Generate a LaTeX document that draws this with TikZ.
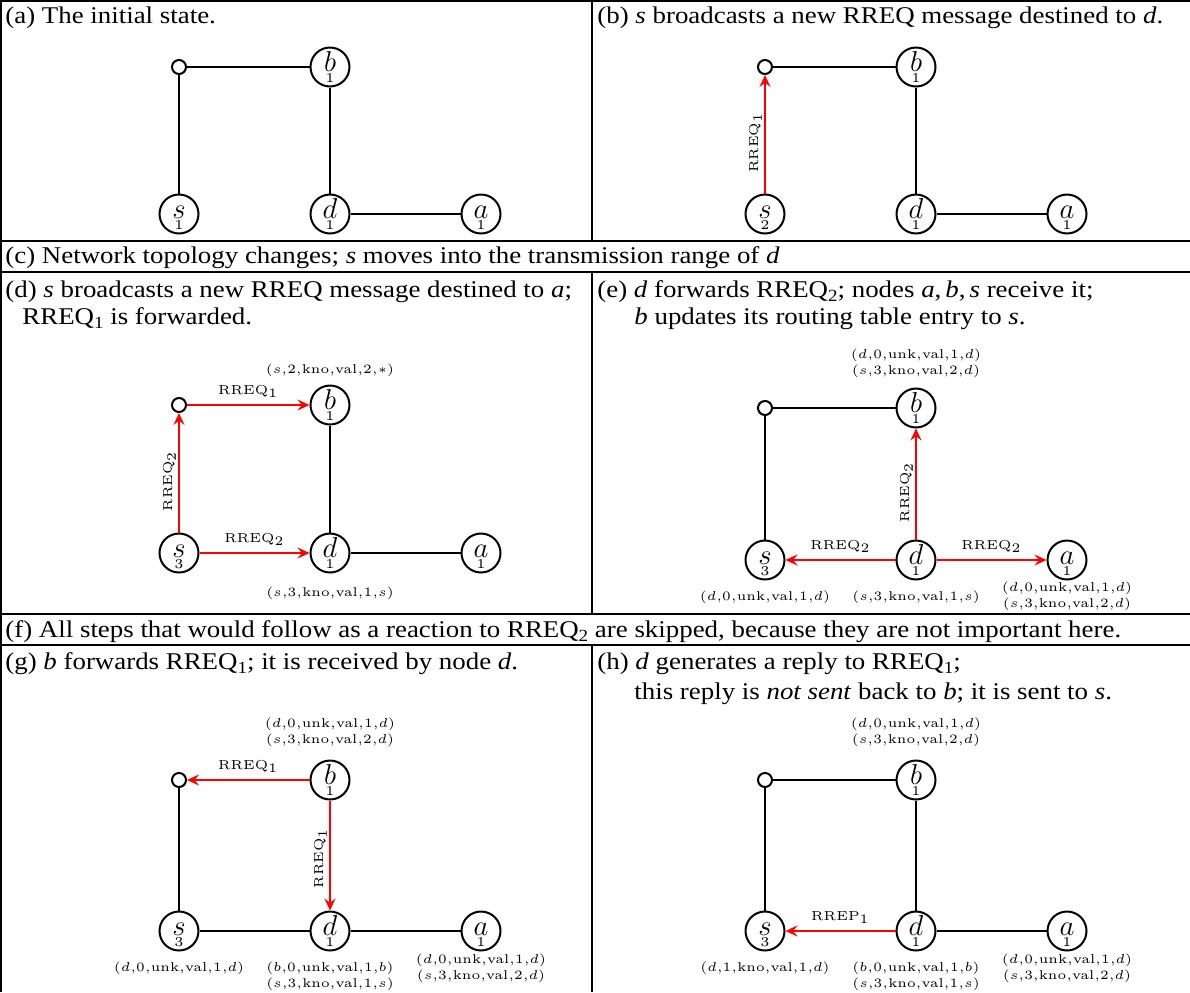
\documentclass[tikz,border=0pt]{standalone}
\usepackage[no-math]{fontspec}
\setmainfont[FakeStretch=1.12]{Liberation Serif}
\usepackage{graphicx}
\usetikzlibrary{arrows.meta,calc}

\newcommand\sm[1]{\scalebox{1.28}{\fontsize{5}{6}\selectfont$#1$}}
\newcommand\smm[1]{\scalebox{1.3}{\fontsize{5}{6}\selectfont$#1$}}
\newcommand\smn[1]{\scalebox{1.35}{\fontsize{5}{6}\selectfont$#1$}}
\newcommand\rsub[1]{\raisebox{-0.45ex}{\fontsize{8.5}{10}\selectfont #1}}
\newcommand\tup[6]{\sm{(#1{,}#2{,}\mathrm{#3}{,}\mathrm{#4}{,}#5{,}#6)}}
\newcommand\nlab[2]{\vbox{\offinterlineskip\halign{\hfil##\hfil\cr
  \fontsize{15}{15}\selectfont$\vphantom{b}#1$\cr
  \noalign{\kern1.3pt}
  \smn{#2}\cr}}}

\tikzset{
  gn/.style={circle,draw,line width=1pt,minimum size=19.5pt,inner sep=0pt},
  hub/.style={circle,draw,line width=1pt,minimum size=7pt,inner sep=0pt},
  lnk/.style={line width=1pt},
  msg/.style={line width=1.1pt,red,-{Stealth[length=6pt,width=5.5pt,inset=2.2pt]}},
  frm/.style={line width=1.1pt},
  captxt/.style={anchor=base west,inner sep=0pt,font=\fontsize{12}{14}\selectfont},
  hlbl/.style={midway,above=2pt,inner sep=1pt,text=black},
  vlbl/.style={rotate=90,anchor=south,inner sep=1pt,xshift=-1.3pt,text=black},
  tbl/.style={inner sep=0pt},
}

\newcommand\gnode[5]{\node[gn] (#1) at (#2,#3) {\nlab{#4}{#5}};}
\newcommand\hnode[3]{\node[hub] (#1) at (#2,#3) {};}

\begin{document}
\begin{tikzpicture}[x=0.5pt,y=-0.5pt]
\useasboundingbox (0,0) rectangle (1190,992);
\clip (0,0) rectangle (1190,992);

% frame
\draw[frm] (1,0) -- (1,992);
\draw[frm] (0,1) -- (1190,1);
\draw[frm] (0,241) -- (1190,241);
\draw[frm] (0,272) -- (1190,272);
\draw[frm] (0,614) -- (1190,614);
\draw[frm] (0,645) -- (1190,645);
\draw[frm] (592,0) -- (592,241);
\draw[frm] (592,272) -- (592,614);
\draw[frm] (592,645) -- (592,992);

% captions
\node[captxt] (ca) at (5,23) {(a) The initial state.};
\node[captxt] (cb) at (597,23) {(b) \textit{s} broadcasts a new RREQ message destined to \textit{d}.};
\node[captxt] (cc) at (5,263) {(c) Network topology changes; \textit{s} moves into the transmission range of \textit{d}};
\node[captxt] (cd1) at (5,297) {(d) \textit{s} broadcasts a new RREQ message destined to \textit{a};};
\node[captxt] (cd2) at (22,324) {RREQ\rsub{1} is forwarded.};
\node[captxt] (ce1) at (597,297) {(e) \textit{d} forwards RREQ\rsub{2}; nodes \textit{a},\,\textit{b},\,\textit{s} receive it;};
\node[captxt] (ce2) at (634,324) {\textit{b} updates its routing table entry to \textit{s}.};
\node[captxt] (cf) at (5,637) {(f) All steps that would follow as a reaction to RREQ\rsub{2} are skipped, because they are not important here.};
\node[captxt] (cg) at (5,669) {(g) \textit{b} forwards RREQ\rsub{1}; it is received by node \textit{d}.};
\node[captxt] (ch1) at (597,669) {(h) \textit{d} generates a reply to RREQ\rsub{1};};
\node[captxt] (ch2) at (634,699) {this reply is \textit{not sent} back to \textit{b}; it is sent to \textit{s}.};

% ---------- panel a
\hnode{Ah}{179}{67}
\gnode{Ab}{330}{67}{b}{1}
\gnode{As}{179}{214}{s}{1}
\gnode{Ad}{330}{214}{d}{1}
\gnode{Aa}{481}{214}{a}{1}
\draw[lnk] (Ah) -- (Ab);
\draw[lnk] (Ah) -- (As);
\draw[lnk] (Ab) -- (Ad);
\draw[lnk] (Ad) -- (Aa);

% ---------- panel b
\hnode{Bh}{765}{67}
\gnode{Bb}{916}{67}{b}{1}
\gnode{Bs}{765}{214}{s}{2}
\gnode{Bd}{916}{214}{d}{1}
\gnode{Ba}{1067}{214}{a}{1}
\draw[lnk] (Bh) -- (Bb);
\draw[lnk] (Bb) -- (Bd);
\draw[lnk] (Bd) -- (Ba);
\draw[msg] (Bs) -- node[vlbl,pos=0.45] (Bl1) {\smm{\mathrm{RREQ}_1}} (Bh);

% ---------- panel d
\hnode{Dh}{179}{405}
\gnode{Db}{330}{405}{b}{1}
\gnode{Ds}{179}{553}{s}{3}
\gnode{Dd}{330}{553}{d}{1}
\gnode{Da}{481}{553}{a}{1}
\draw[lnk] (Db) -- (Dd);
\draw[lnk] (Dd) -- (Da);
\draw[msg] (Dh) -- node[hlbl] (Dl1) {\smm{\mathrm{RREQ}_1}} (Db);
\draw[msg] (Ds) -- node[vlbl,pos=0.45] (Dl2) {\smm{\mathrm{RREQ}_2}} (Dh);
\draw[msg] (Ds) -- node[hlbl] (Dl3) {\smm{\mathrm{RREQ}_2}} (Dd);
\node[tbl] (Dt1) at (330,370) {\tup{s}{2}{kno}{val}{2}{*}};
\node[tbl] (Dt2) at (330,593) {\tup{s}{3}{kno}{val}{1}{s}};

% ---------- panel e
\hnode{Eh}{765}{408}
\gnode{Eb}{916}{408}{b}{1}
\gnode{Es}{765}{560}{s}{3}
\gnode{Ed}{916}{560}{d}{1}
\gnode{Ea}{1067}{560}{a}{1}
\draw[lnk] (Eh) -- (Eb);
\draw[lnk] (Eh) -- (Es);
\draw[msg] (Ed) -- node[vlbl,pos=0.45] (El1) {\smm{\mathrm{RREQ}_2}} (Eb);
\draw[msg] (Ed) -- node[hlbl] (El2) {\smm{\mathrm{RREQ}_2}} (Es);
\draw[msg] (Ed) -- node[hlbl] (El3) {\smm{\mathrm{RREQ}_2}} (Ea);
\node[tbl] (Et1) at (916,355) {\tup{d}{0}{unk}{val}{1}{d}};
\node[tbl] (Et2) at (916,371) {\tup{s}{3}{kno}{val}{2}{d}};
\node[tbl] (Et3) at (765,597) {\tup{d}{0}{unk}{val}{1}{d}};
\node[tbl] (Et4) at (916,597) {\tup{s}{3}{kno}{val}{1}{s}};
\node[tbl] (Et5) at (1067,588) {\tup{d}{0}{unk}{val}{1}{d}};
\node[tbl] (Et6) at (1067,604) {\tup{s}{3}{kno}{val}{2}{d}};

% ---------- panel g
\hnode{Gh}{179}{780}
\gnode{Gb}{330}{780}{b}{1}
\gnode{Gs}{179}{931}{s}{3}
\gnode{Gd}{330}{931}{d}{1}
\gnode{Ga}{481}{931}{a}{1}
\draw[lnk] (Gh) -- (Gs);
\draw[lnk] (Gs) -- (Gd);
\draw[lnk] (Gd) -- (Ga);
\draw[msg] (Gb) -- node[hlbl] (Gl1) {\smm{\mathrm{RREQ}_1}} (Gh);
\draw[msg] (Gb) -- node[vlbl,pos=0.5] (Gl2) {\smm{\mathrm{RREQ}_1}} (Gd);
\node[tbl] (Gt1) at (330,724) {\tup{d}{0}{unk}{val}{1}{d}};
\node[tbl] (Gt2) at (330,740) {\tup{s}{3}{kno}{val}{2}{d}};
\node[tbl] (Gt3) at (179,968) {\tup{d}{0}{unk}{val}{1}{d}};
\node[tbl] (Gt4) at (330,968) {\tup{b}{0}{unk}{val}{1}{b}};
\node[tbl] (Gt5) at (330,984) {\tup{s}{3}{kno}{val}{1}{s}};
\node[tbl] (Gt6) at (481,960) {\tup{d}{0}{unk}{val}{1}{d}};
\node[tbl] (Gt7) at (481,976) {\tup{s}{3}{kno}{val}{2}{d}};

% ---------- panel h
\hnode{Hh}{765}{780}
\gnode{Hb}{916}{780}{b}{1}
\gnode{Hs}{765}{931}{s}{3}
\gnode{Hd}{916}{931}{d}{1}
\gnode{Ha}{1067}{931}{a}{1}
\draw[lnk] (Hh) -- (Hb);
\draw[lnk] (Hh) -- (Hs);
\draw[lnk] (Hb) -- (Hd);
\draw[lnk] (Hd) -- (Ha);
\draw[msg] (Hd) -- node[hlbl] (Hl1) {\smm{\mathrm{RREP}_1}} (Hs);
\node[tbl] (Ht1) at (916,724) {\tup{d}{0}{unk}{val}{1}{d}};
\node[tbl] (Ht2) at (916,740) {\tup{s}{3}{kno}{val}{2}{d}};
\node[tbl] (Ht3) at (765,968) {\tup{d}{1}{kno}{val}{1}{d}};
\node[tbl] (Ht4) at (916,968) {\tup{b}{0}{unk}{val}{1}{b}};
\node[tbl] (Ht5) at (916,984) {\tup{s}{3}{kno}{val}{1}{s}};
\node[tbl] (Ht6) at (1067,960) {\tup{d}{0}{unk}{val}{1}{d}};
\node[tbl] (Ht7) at (1067,976) {\tup{s}{3}{kno}{val}{2}{d}};
\end{tikzpicture}
\end{document}
